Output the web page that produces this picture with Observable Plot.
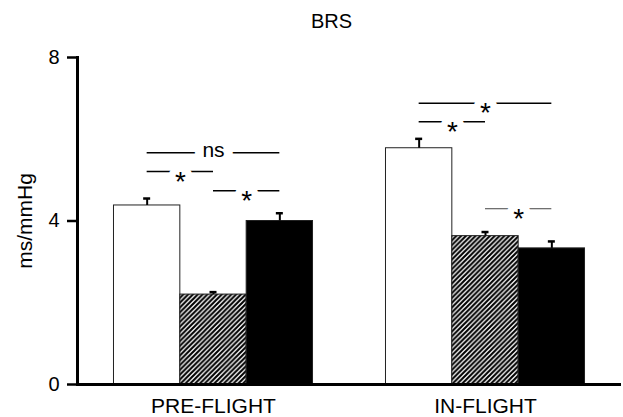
<!DOCTYPE html>
<html>
<head>
<meta charset="utf-8">
<script src="https://cdn.jsdelivr.net/npm/d3@7"></script>
<script src="https://cdn.jsdelivr.net/npm/@observablehq/plot@0.6"></script>
<style>
  html, body { margin: 0; padding: 0; background: #fff; }
  #title { width: 623px; height: 40px; box-sizing: border-box; padding-left: 40px; text-align: center;
           font: 20px "Liberation Sans", Arial, sans-serif; line-height: 43px; color: #000; }
</style>
</head>
<body>
<div id="title">BRS</div>
<div id="chart"></div>
<script>
const groups = ["PRE-FLIGHT", "IN-FLIGHT"];
const conditions = ["open", "hatched", "solid"];
const preValues = [4.38, 2.20, 4.00];
const preErrors = [0.17, 0.06, 0.19];
const inValues = [5.78, 3.63, 3.33];
const inErrors = [0.23, 0.10, 0.17];
const yTicks = [0, 4, 8];

const bracketGroup = ["PRE-FLIGHT", "PRE-FLIGHT", "PRE-FLIGHT", "IN-FLIGHT", "IN-FLIGHT", "IN-FLIGHT"];
const bracketFrom = ["open", "open", "hatched", "open", "open", "hatched"];
const bracketTo = ["solid", "hatched", "solid", "solid", "hatched", "solid"];
const bracketY = [5.67, 5.21, 4.74, 6.88, 6.43, 4.30];
const bracketLabel = ["ns", "*", "*", "*", "*", "*"];

const seriesValues = [preValues, inValues];
const seriesErrors = [preErrors, inErrors];
const rows = groups.flatMap((g, gi) => conditions.map((c, ci) => ({
  group: g, condition: c, pos: ci, value: seriesValues[gi][ci], error: seriesErrors[gi][ci]
})));
const brackets = bracketGroup.map((g, i) => ({
  group: g,
  from: conditions.indexOf(bracketFrom[i]),
  to: conditions.indexOf(bracketTo[i]),
  mid: (conditions.indexOf(bracketFrom[i]) + conditions.indexOf(bracketTo[i])) / 2,
  y: bracketY[i],
  label: bracketLabel[i],
  thin: i === 5
}));

const font = '"Liberation Sans", Arial, sans-serif';

const chart = Plot.plot({
  width: 623,
  height: 377,
  marginLeft: 76,
  marginRight: 2,
  marginTop: 17,
  marginBottom: 33,
  style: { fontFamily: font, background: "white", color: "black" },
  fx: { domain: groups, padding: 0, label: null },
  x: { domain: [-1.05, 3.05], axis: null },
  y: { domain: [0, 8] },
  color: { domain: conditions, range: ["white", "url(#hatch)", "black"] },
  marks: [
    Plot.rectY(rows, { fx: "group", x1: d => d.pos - 0.5, x2: d => d.pos + 0.5, y: "value",
      fill: "condition", stroke: "#222", strokeWidth: 1 }),
    Plot.ruleX(rows, { fx: "group", x: "pos", y1: "value", y2: d => d.value + d.error, stroke: "black", strokeWidth: 2 }),
    Plot.ruleY(rows, { fx: "group", x1: "pos", x2: "pos", y: d => d.value + d.error, stroke: "black",
      strokeWidth: 2.5, insetLeft: -3.5, insetRight: -3.5 }),
    Plot.ruleY(brackets, { fx: "group", x1: "from", x2: "to", y: "y",
      stroke: d => d.thin ? "#444" : "black", strokeWidth: d => d.thin ? 1 : 1.5 }),
    Plot.text(brackets.filter(d => d.label === "ns"), { fx: "group", x: "mid", y: "y", text: "label",
      fontSize: 21, fill: "black", stroke: "white", strokeWidth: 18, dy: -2.5 }),
    Plot.text(brackets.filter(d => d.label !== "ns"), { fx: "group", x: "mid", y: "y", text: "label",
      fontSize: 28, fill: "black", stroke: "white", strokeWidth: 14, dy: 10 }),
    Plot.ruleY([0], { stroke: "black", strokeWidth: 3 }),
    Plot.frame({ anchor: "left", facetAnchor: "left", stroke: "black", strokeWidth: 3 }),
    Plot.axisY({ ticks: yTicks, tickSize: 10, tickPadding: 8, fontSize: 20, strokeWidth: 2.5,
      label: "ms/mmHg", labelAnchor: "center", labelArrow: "none", labelOffset: 60 }),
    Plot.axisFx({ anchor: "bottom", tickSize: 0, tickPadding: 14, fontSize: 21, label: null })
  ]
});

d3.select(chart).insert("defs", ":first-child").html(
  '<pattern id="hatch" patternUnits="userSpaceOnUse" width="4.8" height="4.8">' +
  '<rect width="4.8" height="4.8" fill="white"/>' +
  '<path d="M-1.2,1.2 L1.2,-1.2 M0,4.8 L4.8,0 M3.6,6 L6,3.6" stroke="black" stroke-width="2.1"/>' +
  '</pattern>'
);
d3.select(chart).selectAll("text").filter(function () { return this.textContent === "ms/mmHg"; })
  .attr("font-size", 21);

document.getElementById("chart").appendChild(chart);
</script>
</body>
</html>
